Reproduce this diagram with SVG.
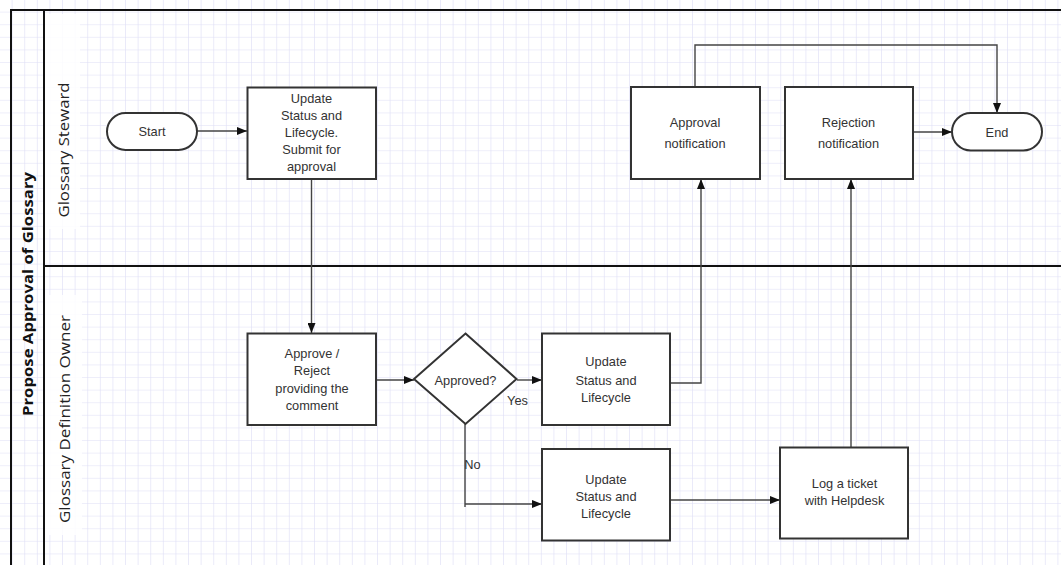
<svg xmlns="http://www.w3.org/2000/svg" width="1061" height="565" viewBox="0 0 1061 565">
  <defs>
    <pattern id="grid" x="0" y="0" width="12.6" height="12.6" patternUnits="userSpaceOnUse">
      <path d="M12.6,0 V12.6 M0,12.6 H12.6" fill="none" stroke="#dedef6" stroke-width="1.2"/>
    </pattern>
    <marker id="arrow" markerWidth="10" markerHeight="8" refX="10" refY="4" orient="auto" markerUnits="userSpaceOnUse">
      <path d="M0,0 L10,4 L0,8 z" fill="#111"/>
    </marker>
    <style>
      .box { fill: #ffffff; stroke: #333333; stroke-width: 2; }
      .lbl { font-family: "Liberation Sans", Arial, sans-serif; font-size: 12.8px; fill: #333333; text-anchor: middle; }
      .lane { font-family: "Open Sans", "Noto Sans", sans-serif; font-size: 15px; fill: #222222; text-anchor: middle; }
      .pool { font-family: "Open Sans", "Noto Sans", sans-serif; font-size: 15px; font-weight: bold; fill: #111111; text-anchor: middle; }
      .conn { fill: none; stroke: #444444; stroke-width: 1.4; }
      .frame { fill: none; stroke: #111111; stroke-width: 2; }
    </style>
  </defs>

  <rect x="0" y="0" width="1061" height="565" fill="#ffffff"/>
  <rect x="0" y="0" width="1061" height="565" fill="url(#grid)"/>

  <g id="pool">
    <rect x="45" y="14" width="35" height="215" fill="#ffffff" opacity="0.85"/>
    <rect x="45" y="295" width="37" height="240" fill="#ffffff" opacity="0.85"/>
    <path class="frame" d="M11,575 V10 H1070"/>
    <path class="frame" d="M44,10 V575"/>
    <path class="frame" d="M44,266 H1070"/>
    <text class="pool" transform="translate(33,294) rotate(-90)" textLength="244" lengthAdjust="spacingAndGlyphs">Propose Approval of Glossary</text>
    <text class="lane" transform="translate(69,150) rotate(-90)" textLength="135" lengthAdjust="spacingAndGlyphs">Glossary Steward</text>
    <text class="lane" transform="translate(70,419) rotate(-90)" textLength="208" lengthAdjust="spacingAndGlyphs">Glossary Definition Owner</text>
  </g>

  <g id="connectors">
    <path class="conn" d="M197,131 H247" marker-end="url(#arrow)"/>
    <path class="conn" d="M311.5,179 V333" marker-end="url(#arrow)"/>
    <path class="conn" d="M376,380 H414" marker-end="url(#arrow)"/>
    <path class="conn" d="M517,380 H542" marker-end="url(#arrow)"/>
    <path class="conn" d="M670,383 H701 V179" marker-end="url(#arrow)"/>
    <path class="conn" d="M465,424 V507"/>
    <path class="conn" d="M465,504 H542" marker-end="url(#arrow)"/>
    <path class="conn" d="M670,500 H780" marker-end="url(#arrow)"/>
    <path class="conn" d="M851,447 V179" marker-end="url(#arrow)"/>
    <path class="conn" d="M913,132 H952" marker-end="url(#arrow)"/>
    <path class="conn" d="M695,87 V45 H997 V113" marker-end="url(#arrow)"/>
    <text class="lbl" x="517.5" y="404.5">Yes</text>
    <text class="lbl" x="472.5" y="468.5">No</text>
  </g>

  <g id="start">
    <rect class="box" x="107" y="113" width="90" height="37" rx="18.5" ry="18.5"/>
    <text class="lbl" x="152" y="135.5">Start</text>
  </g>

  <g id="update-submit">
    <rect class="box" x="247.5" y="87.5" width="128.5" height="91.5"/>
    <text class="lbl" x="311.5" y="103">Update</text>
    <text class="lbl" x="311.5" y="120">Status and</text>
    <text class="lbl" x="311.5" y="137">Lifecycle.</text>
    <text class="lbl" x="311.5" y="154">Submit for</text>
    <text class="lbl" x="311.5" y="171">approval</text>
  </g>

  <g id="approval-notification">
    <rect class="box" x="631" y="87" width="129" height="92"/>
    <text class="lbl" x="695" y="127">Approval</text>
    <text class="lbl" x="695" y="148">notification</text>
  </g>

  <g id="rejection-notification">
    <rect class="box" x="785" y="87" width="128" height="92"/>
    <text class="lbl" x="848.5" y="127">Rejection</text>
    <text class="lbl" x="848.5" y="148">notification</text>
  </g>

  <g id="end">
    <rect class="box" x="952" y="113" width="90" height="37.5" rx="18.75" ry="18.75"/>
    <text class="lbl" x="997" y="136.5">End</text>
  </g>

  <g id="approve-reject">
    <rect class="box" x="247.5" y="333.5" width="128.5" height="91.5"/>
    <text class="lbl" x="312" y="357.5">Approve /</text>
    <text class="lbl" x="312" y="375">Reject</text>
    <text class="lbl" x="312" y="393">providing the</text>
    <text class="lbl" x="312" y="410">comment</text>
  </g>

  <g id="approved-decision">
    <polygon class="box" points="465.5,333.5 516.5,379 465.5,424 414,379"/>
    <text class="lbl" x="465.5" y="384.5">Approved?</text>
  </g>

  <g id="update-yes">
    <rect class="box" x="542" y="333.5" width="128" height="91.5"/>
    <text class="lbl" x="606" y="366">Update</text>
    <text class="lbl" x="606" y="384.5">Status and</text>
    <text class="lbl" x="606" y="402">Lifecycle</text>
  </g>

  <g id="update-no">
    <rect class="box" x="542" y="449" width="128" height="91.5"/>
    <text class="lbl" x="606" y="483.5">Update</text>
    <text class="lbl" x="606" y="500.5">Status and</text>
    <text class="lbl" x="606" y="517.5">Lifecycle</text>
  </g>

  <g id="log-ticket">
    <rect class="box" x="780" y="447.5" width="128" height="91"/>
    <text class="lbl" x="844.5" y="488">Log a ticket</text>
    <text class="lbl" x="844.5" y="505">with Helpdesk</text>
  </g>
</svg>
